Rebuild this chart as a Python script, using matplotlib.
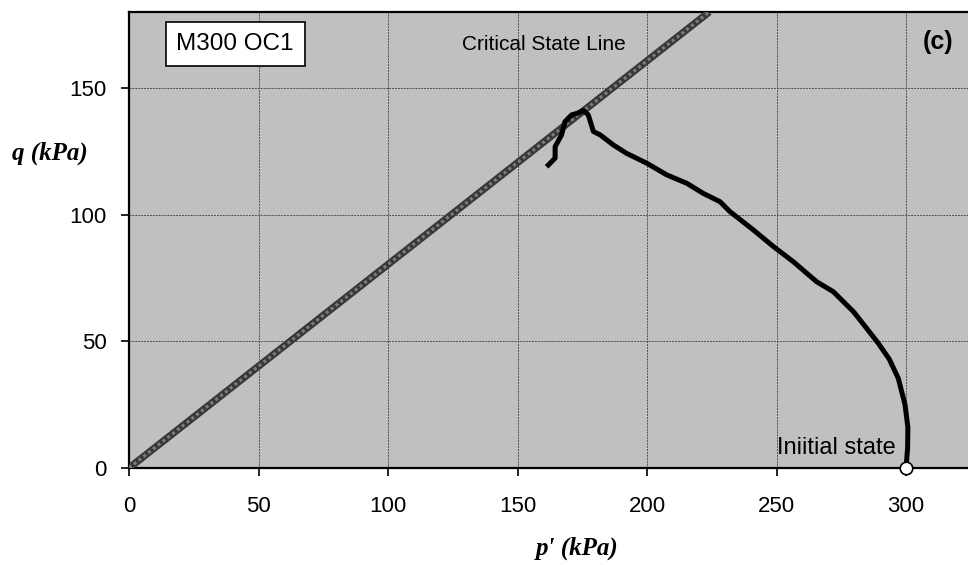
import matplotlib
matplotlib.use("Agg")
import matplotlib.pyplot as plt

# critical state line (end points)
csl_p = [0, 224]
csl_q = [0, 180]

# effective stress path, from the initial state to the end of the test
path_p = [300.0, 300.6, 300.7, 299.6, 297.0, 293.5, 289.3, 284.8, 279.7, 271.9,
          265.5, 256.5, 248.8, 241.0, 232.0, 228.2, 221.7, 215.3, 207.6, 199.9,
          192.1, 187.0, 181.9, 179.3, 177.3, 175.4, 173.0, 170.9, 168.3, 167.0,
          164.5, 164.5, 161.9]
path_q = [0.0, 8.0, 16.0, 25.0, 35.4, 43.0, 49.2, 55.1, 61.7, 69.6,
          73.5, 81.4, 87.4, 94.0, 101.2, 105.1, 108.4, 112.4, 115.7, 120.3,
          124.2, 127.5, 131.5, 132.8, 139.4, 141.1, 140.0, 139.4, 136.7, 131.5,
          126.8, 122.3, 119.6]

init_p = [300]
init_q = [0]

x_ticks = [0, 50, 100, 150, 200, 250, 300]
y_ticks = [0, 50, 100, 150]

plt.rcParams['font.family'] = ['Liberation Sans', 'DejaVu Sans']

fig = plt.figure(figsize=(9.68, 5.65), dpi=100)
# the plot area runs past the right edge of the picture (cropped figure)
ax = fig.add_axes([0.1333, 0.1717, 0.9365, 0.8071])
ax.set_facecolor('#c0c0c0')

ax.set_xlim(0, 350)
ax.set_ylim(0, 180)
ax.set_xticks(x_ticks)
ax.set_yticks(y_ticks)
ax.grid(True, color='#505050', linestyle=(0, (2, 1)), linewidth=0.7)
ax.set_axisbelow(True)

for side in ['left', 'bottom', 'top']:
    ax.spines[side].set_linewidth(1.6)
    ax.spines[side].set_color('black')
ax.spines['right'].set_visible(False)

ax.tick_params(direction='out', length=6, width=1.2, labelsize=16, colors='black')
ax.tick_params(axis='x', pad=14)
ax.tick_params(axis='y', pad=10)

# textured critical state line
ax.plot(csl_p, csl_q, color='#383838', linewidth=5.2, solid_capstyle='butt', zorder=3)
ax.plot(csl_p, csl_q, color='#7c7c7c', linewidth=2.2, linestyle=(0, (1, 1)), zorder=3)

ax.plot(path_p, path_q, color='black', linewidth=3.6, solid_joinstyle='round', zorder=4)
ax.plot(init_p, init_q, 'o', markersize=9, markerfacecolor='white',
        markeredgecolor='black', markeredgewidth=1.2, clip_on=False, zorder=5)

ax.text(41, 167.5, 'M300 OC1', fontsize=17.5, ha='center', va='center',
        bbox=dict(boxstyle='square,pad=0.45', facecolor='white', edgecolor='black', linewidth=1.2))
ax.text(160, 167, 'Critical State Line', fontsize=15, ha='center', va='center')
ax.text(312.5, 168, '(c)', fontsize=18, fontweight='bold', ha='center', va='center')
ax.text(273, 8, 'Iniitial state', fontsize=17, ha='center', va='center')

fig.text(0.052, 0.729, 'q (kPa)', fontsize=18, fontweight='bold', fontstyle='italic',
         family=['Liberation Serif', 'DejaVu Serif'], ha='center', va='center')
fig.text(0.596, 0.030, "p' (kPa)", fontsize=18, fontweight='bold', fontstyle='italic',
         family=['Liberation Serif', 'DejaVu Serif'], ha='center', va='center')

fig.savefig('out.png', dpi=100)
